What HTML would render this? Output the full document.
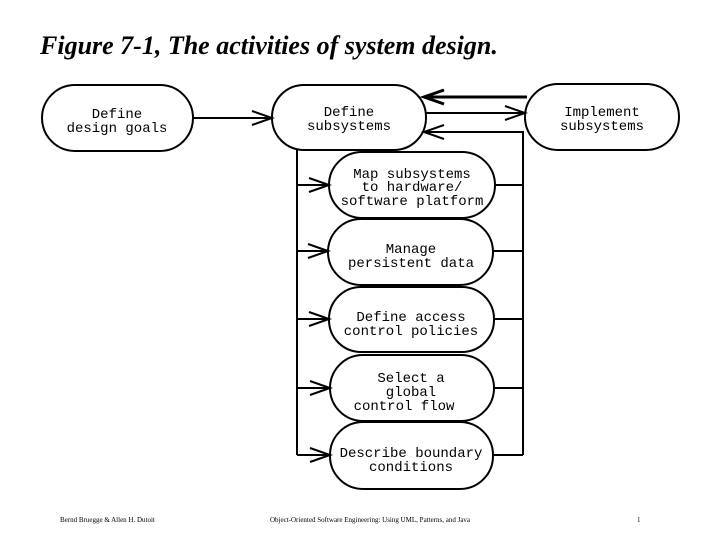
<!DOCTYPE html>
<html><head><meta charset="utf-8"><style>
html,body{margin:0;padding:0;background:#fff;}
svg{display:block;}
.t{font-family:"Liberation Mono","DejaVu Sans Mono",monospace;font-size:14px;fill:#000;text-anchor:middle;}
.f{font-family:"Liberation Serif",serif;font-size:7px;fill:#000;}
</style></head><body>
<svg width="720" height="540" viewBox="0 0 720 540" xmlns="http://www.w3.org/2000/svg">
<text x="40" y="54" font-family="Liberation Serif, serif" font-size="26" font-weight="bold" font-style="italic">Figure 7-1, The activities of system design.</text>
<g fill="none" stroke="#000" stroke-width="2">
<rect x="42" y="85" width="151" height="66" rx="33"/>
<rect x="272" y="85" width="154" height="65" rx="32"/>
<rect x="525" y="84" width="154" height="66" rx="33"/>
<rect x="329" y="152" width="166" height="66" rx="33"/>
<rect x="328" y="219" width="165" height="66" rx="33"/>
<rect x="329" y="287" width="165" height="65" rx="32"/>
<rect x="330" y="355" width="164" height="66" rx="33"/>
<rect x="330" y="422" width="163" height="67" rx="33"/>
<path d="M193 118 H272 M252 111 L272 118 L252 125"/>
<path d="M426 113 H525 M505 106 L525 113 L505 120"/>
<path d="M424 97 H527 M444 90 L424 97 L444 104" stroke-width="3"/>
<path d="M424 132 H523 V455 M444 125 L424 132 L444 139"/>
<path d="M297 150 V455"/>
<path d="M297 185 H329 M309 178 L329 185 L309 192"/>
<path d="M297 251 H328 M308 244 L328 251 L308 258"/>
<path d="M297 319 H329 M309 312 L329 319 L309 326"/>
<path d="M297 388 H330 M310 381 L330 388 L310 395"/>
<path d="M297 455 H330 M310 448 L330 455 L310 462"/>
<path d="M495 185 H523 M493 251 H523 M494 319 H523 M494 388 H523 M493 455 H523"/>
</g>
<text class="t" x="117" y="118">Define</text><text class="t" x="117" y="132">design goals</text>
<text class="t" x="349" y="116">Define</text><text class="t" x="349" y="130">subsystems</text>
<text class="t" x="602" y="116">Implement</text><text class="t" x="602" y="130">subsystems</text>
<text class="t" x="412" y="178">Map subsystems</text><text class="t" x="412" y="191">to hardware/</text><text class="t" x="412" y="205">software platform</text>
<text class="t" x="411" y="253">Manage</text><text class="t" x="411" y="267">persistent data</text>
<text class="t" x="411" y="321">Define access</text><text class="t" x="411" y="335">control policies</text>
<text class="t" x="411" y="382">Select a</text><text class="t" x="411" y="396">global</text><text class="t" x="404" y="410">control flow</text>
<text class="t" x="411" y="457">Describe boundary</text><text class="t" x="411" y="471">conditions</text>
<text class="f" x="60" y="522">Bernd Bruegge &amp; Allen H. Dutoit</text>
<text class="f" x="270" y="522">Object-Oriented Software Engineering: Using UML, Patterns, and Java</text>
<text class="f" x="637" y="522">1</text>
</svg>
</body></html>
